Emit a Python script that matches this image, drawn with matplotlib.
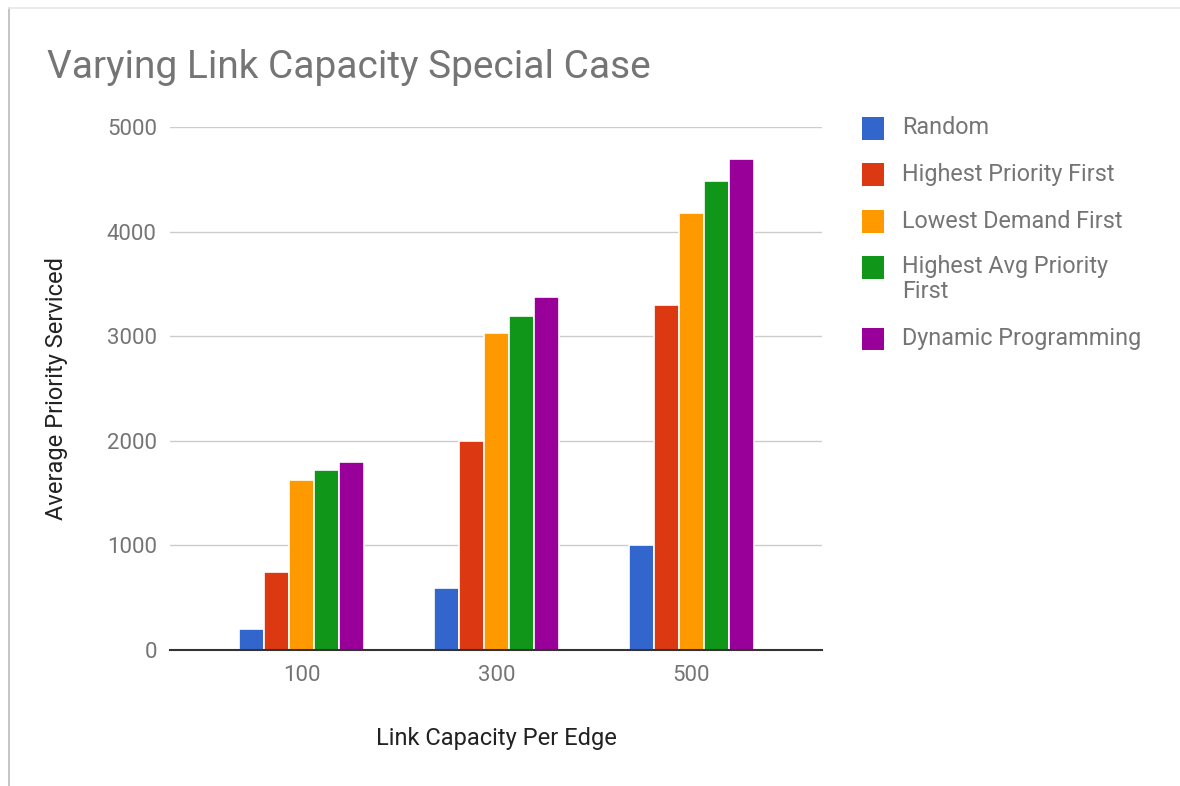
import numpy as np
import matplotlib.pyplot as plt
from matplotlib.lines import Line2D
from matplotlib.patches import Rectangle

plt.rcParams['font.family'] = ['Roboto', 'DejaVu Sans']

capacities = ["100", "300", "500"]
series_names = ["Random", "Highest Priority First", "Lowest Demand First",
                "Highest Avg Priority\nFirst", "Dynamic Programming"]
random_vals = [200, 590, 1000]
hpf_vals = [750, 2000, 3300]
ldf_vals = [1630, 3030, 4180]
hapf_vals = [1720, 3190, 4480]
dp_vals = [1800, 3370, 4690]
colors = ["#3366cc", "#dc3912", "#ff9900", "#109618", "#990099"]
yticks = [0, 1000, 2000, 3000, 4000, 5000]

all_vals = [random_vals, hpf_vals, ldf_vals, hapf_vals, dp_vals]

W, H = 1180, 786
fig = plt.figure(figsize=(W / 100, H / 100), dpi=100)
ax = fig.add_axes([170 / W, 1 - 650 / H, 652 / W, 523 / H])

x = np.arange(len(capacities))
slot = 0.129
for i, vals in enumerate(all_vals):
    ax.bar(x + (i - 2) * slot, vals, width=slot, color=colors[i],
           edgecolor="white", linewidth=1.2, zorder=3)

ax.set_xlim(-0.675, 2.67)
ax.set_ylim(0, 5000)
ax.set_yticks(yticks)
ax.set_yticklabels([str(t) for t in yticks])
ax.set_xticks(x)
ax.set_xticklabels(capacities)
ax.grid(axis="y", color="#cccccc", linewidth=1, zorder=0)
for s in ["top", "right", "left"]:
    ax.spines[s].set_visible(False)
ax.spines["bottom"].set_color("#333333")
ax.spines["bottom"].set_linewidth(1.5)
ax.spines["bottom"].set_zorder(4)
ax.tick_params(axis="both", length=0, labelsize=16, labelcolor="#757575")
ax.tick_params(axis="y", pad=9.5)
ax.tick_params(axis="x", pad=11)

ax.set_xlabel("Link Capacity Per Edge", fontsize=17, color="#222222", va="center")
ax.xaxis.set_label_coords(0.5, (650 - 738) / 523)
ax.set_ylabel("Average Priority Serviced", fontsize=17, color="#222222", va="center")
ax.yaxis.set_label_coords((56 - 170) / 652, 0.5)

fig.text(47 / W, 1 - 68 / H, "Varying Link Capacity Special Case",
         fontsize=28, color="#757575", va="center", ha="left")

# legend on the right: colour square + label, one entry per series
legend_rows = [128, 174, 221, 267, 339]
for name, col, yc in zip(series_names, colors, legend_rows):
    fig.add_artist(Rectangle((862 / W, 1 - (yc + 11.5) / H), 22.5 / W, 23 / H,
                             transform=fig.transFigure, facecolor=col,
                             edgecolor="none"))
    lines = name.split("\n")
    for k, line in enumerate(lines):
        fig.text(902 / W, 1 - (yc + 24 * k) / H, line, fontsize=16.8,
                 color="#757575", va="center", ha="left")

# thin frame around the chart image
fig.add_artist(Line2D([9 / W, 9 / W], [0, 1 - 8 / H], color="#bbbbbb", lw=1.2))
fig.add_artist(Line2D([9 / W, 1], [1 - 8 / H, 1 - 8 / H], color="#e6e6e6", lw=1.2))

fig.savefig("out.png", dpi=100, facecolor="white")
